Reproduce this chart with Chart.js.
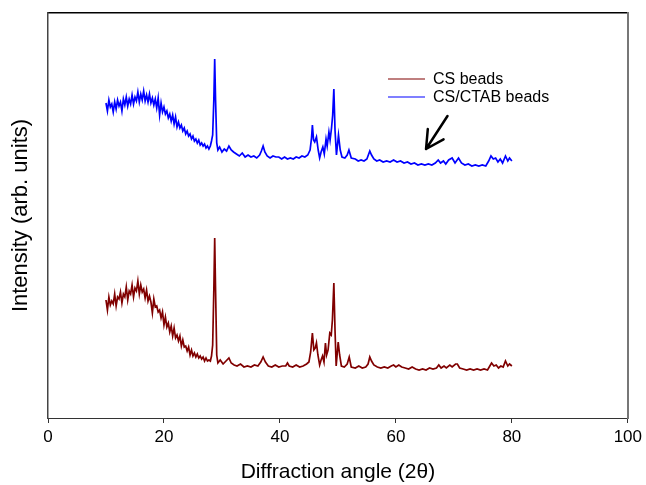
<!DOCTYPE html>
<html>
<head>
<meta charset="utf-8">
<script src="https://cdn.jsdelivr.net/npm/chart.js@4"></script>
<style>
html,body{margin:0;padding:0;background:#fff;}
#wrap{width:646px;height:485px;}
</style>
</head>
<body>
<div id="wrap"><canvas id="c" width="646" height="485"></canvas></div>
<script>
// ---- DATA ----
const seriesNames = ["CS beads", "CS/CTAB beads"];
const xTickLabels = [0, 20, 40, 60, 80, 100];

const csAngle = [10.0,10.25,10.5,10.75,11.0,11.25,11.5,11.75,12.0,12.25,12.5,12.75,13.0,13.25,13.5,13.75,14.0,14.25,14.5,14.75,15.0,15.25,15.5,15.75,16.0,16.25,16.5,16.75,17.0,17.25,17.5,17.75,18.0,18.25,18.5,18.75,19.0,19.25,19.5,19.75,20.0,20.25,20.5,20.75,21.0,21.25,21.5,21.75,22.0,22.25,22.5,22.75,23.0,23.25,23.5,23.75,24.0,24.25,24.5,24.75,25.0,25.25,25.5,25.75,26.0,26.25,26.5,26.75,27.0,27.25,27.5,27.75,28.0,28.2,28.4,28.6,28.75,28.9,29.1,29.3,29.7,30.2,30.7,31.2,31.6,32.1,32.6,33.2,33.8,34.4,35.0,35.6,36.2,36.7,37.1,37.5,38.0,38.6,39.2,39.8,40.4,41.0,41.3,41.6,42.2,42.8,43.4,44.0,44.6,45.0,45.3,45.6,45.85,46.1,46.3,46.55,46.85,47.1,47.35,47.6,47.85,48.05,48.3,48.6,48.85,49.05,49.3,49.5,49.7,50.05,50.3,50.6,51.1,51.6,51.95,52.3,53.0,53.6,54.2,54.8,55.2,55.5,55.8,56.2,56.8,57.4,58.0,58.6,59.2,59.6,60.0,60.5,61.0,61.6,62.2,62.8,63.4,64.0,64.6,65.2,65.8,66.4,67.0,67.4,67.8,68.3,68.7,69.3,69.7,70.3,70.6,71.0,71.6,72.2,72.8,73.4,74.0,74.6,75.2,75.8,76.2,76.5,76.9,77.3,77.7,78.1,78.5,78.9,79.3,79.6,80.0];
const csIntensity = [118,108,121,113,117,114,124,112,121,119,126,115,124,121,131,118,127,124,133,121,130,127,137,124,133,126,129,120,128,117,122,116,105,119,111,112,106,108,100,106,93,101,91,95,86,92,82,90,80,83,77,82,72,78,71,72,67,71,63,68,62,65,61,64,60,62,59,61,57,60,57,58,57,62,73,128,180,128,63,55,58,54,57,60,55,53,52,54,51,52,51,53,52,56,61,56,52,51,53,51,52,52,55,52,51,53,51,52,54,56,66,85,68,70,75,63,53,58,62,56,75,63,68,85,83,98,135,88,52,76,63,52,51,54,61,51,50,52,50,51,54,61,57,53,51,50,51,50,52,53,51,53,51,50,49,51,49,48,49,48,50,49,50,53,50,52,50,53,51,54,54,50,49,48,49,48,49,48,49,48,52,55,52,53,50,52,51,57,52,54,52];

const ctabAngle = [10.0,10.25,10.5,10.75,11.0,11.25,11.5,11.75,12.0,12.25,12.5,12.75,13.0,13.25,13.5,13.75,14.0,14.25,14.5,14.75,15.0,15.25,15.5,15.75,16.0,16.25,16.5,16.75,17.0,17.25,17.5,17.75,18.0,18.25,18.5,18.75,19.0,19.25,19.5,19.75,20.0,20.25,20.5,20.75,21.0,21.25,21.5,21.75,22.0,22.25,22.5,22.75,23.0,23.25,23.5,23.75,24.0,24.25,24.5,24.75,25.0,25.25,25.5,25.75,26.0,26.25,26.5,26.75,27.0,27.25,27.5,27.75,28.0,28.2,28.4,28.6,28.75,28.9,29.1,29.3,29.6,30.0,30.4,30.8,31.2,31.6,32.0,32.5,33.0,33.5,34.0,34.5,35.0,35.5,36.0,36.5,36.8,37.1,37.4,37.8,38.3,38.8,39.3,39.8,40.3,40.8,41.3,41.8,42.3,42.8,43.3,43.8,44.3,44.8,45.2,45.45,45.6,45.8,46.0,46.3,46.6,46.85,47.1,47.4,47.65,47.95,48.15,48.45,48.65,48.9,49.1,49.3,49.5,49.75,50.1,50.4,50.7,51.2,51.6,51.9,52.3,53.0,53.5,54.0,54.5,55.0,55.5,55.8,56.2,56.7,57.2,57.8,58.4,59.0,59.6,60.2,60.8,61.4,62.0,62.6,63.2,63.8,64.4,65.0,65.6,66.2,66.8,67.3,67.7,68.2,68.6,69.1,69.7,70.2,70.8,71.3,71.9,72.5,73.1,73.7,74.3,74.9,75.5,76.0,76.4,76.8,77.2,77.6,78.0,78.4,78.9,79.3,79.6,80.0];
const ctabIntensity = [315,307,318,311,314,306,316,309,318,312,316,307,319,313,321,312,319,314,323,314,321,317,326,316,324,318,327,317,323,316,324,315,320,313,319,310,320,303,315,306,311,304,307,300,304,297,303,294,301,291,296,290,293,287,290,284,287,282,284,279,282,277,279,275,278,273,275,272,274,270,272,269,272,277,283,318,359,318,275,268,271,266,269,267,272,268,266,264,262,265,261,263,261,262,260,263,267,272,266,262,260,262,261,261,259,261,259,260,259,261,260,262,261,263,268,280,293,278,276,281,268,260,266,271,264,279,272,286,278,290,303,329,288,263,283,268,261,260,263,268,260,259,257,258,257,259,267,263,259,257,258,256,257,256,258,256,257,255,256,254,255,253,254,253,254,253,255,258,255,257,254,258,260,255,260,255,253,254,252,253,252,253,252,257,262,259,260,256,259,255,262,257,260,257];

// arrow annotation (data space): tail -> tip
const arrowAngle = [68.9, 65.2];
const arrowIntensity = [302, 269];

const colors = ["#800000", "#0000ff"];

function pts(xs, ys){ return xs.map((x,i)=>({x:x, y:ys[i]})); }

const FONT = "'Liberation Sans', Arial, sans-serif";

const arrowPlugin = {
  id: 'arrow',
  afterDatasetsDraw(chart){
    const {ctx, scales:{x, y}} = chart;
    const x0 = x.getPixelForValue(arrowAngle[0]), y0 = y.getPixelForValue(arrowIntensity[0]);
    const x1 = x.getPixelForValue(arrowAngle[1]), y1 = y.getPixelForValue(arrowIntensity[1]);
    const ang = Math.atan2(y0 - y1, x0 - x1);
    const L = 20, spread = 28 * Math.PI / 180;
    ctx.save();
    ctx.strokeStyle = '#000';
    ctx.lineWidth = 2.5;
    ctx.lineCap = 'round';
    ctx.lineJoin = 'round';
    ctx.beginPath();
    ctx.moveTo(x0, y0); ctx.lineTo(x1, y1);
    ctx.moveTo(x1 + L*Math.cos(ang - spread), y1 + L*Math.sin(ang - spread));
    ctx.lineTo(x1, y1);
    ctx.lineTo(x1 + L*Math.cos(ang + spread), y1 + L*Math.sin(ang + spread));
    ctx.stroke();
    ctx.restore();
  }
};

const legendPlugin = {
  id: 'innerLegend',
  afterDatasetsDraw(chart){
    const {ctx} = chart;
    ctx.save();
    ctx.font = "16px " + FONT;
    ctx.textBaseline = 'middle';
    ctx.textAlign = 'left';
    chart.data.datasets.forEach((ds, i) => {
      const yy = 79 + i * 18;
      ctx.strokeStyle = ds.borderColor;
      ctx.lineWidth = 1.2;
      ctx.beginPath(); ctx.moveTo(388, yy); ctx.lineTo(425, yy); ctx.stroke();
      ctx.fillStyle = '#000';
      ctx.fillText(ds.label, 433, yy + 1);
    });
    ctx.restore();
  }
};

new Chart(document.getElementById('c'), {
  type: 'line',
  data: {
    datasets: [
      {label: seriesNames[0], data: pts(csAngle, csIntensity), borderColor: colors[0], backgroundColor: colors[0], borderWidth: 1.7, pointRadius: 0, tension: 0, fill: false},
      {label: seriesNames[1], data: pts(ctabAngle, ctabIntensity), borderColor: colors[1], backgroundColor: colors[1], borderWidth: 1.7, pointRadius: 0, tension: 0, fill: false}
    ]
  },
  options: {
    responsive: false,
    animation: false,
    devicePixelRatio: 1,
    layout: {padding: 0},
    plugins: {legend: {display: false}, tooltip: {enabled: false}},
    scales: {
      x: {
        type: 'linear', position: 'bottom', min: 0, max: 100,
        afterBuildTicks(s){ s.ticks = xTickLabels.map(v => ({value: v})); },
        afterFit(s){ s.height = 67; },
        ticks: {color: '#000', font: {family: FONT, size: 17}, padding: 4, maxRotation: 0},
        grid: {display: true, drawOnChartArea: false, drawTicks: true, tickLength: 5, color: '#333'},
        border: {display: true, color: '#333', width: 1},
        title: {display: true, text: 'Diffraction angle (2θ)', color: '#000', font: {family: FONT, size: 21}, padding: {top: 0, bottom: 0}}
      },
      x2: {
        type: 'linear', position: 'top', min: 0, max: 100,
        afterFit(s){ s.height = 13; },
        ticks: {display: false},
        grid: {display: false},
        border: {display: true, color: '#000', width: 1.5}
      },
      y: {
        type: 'linear', position: 'left', min: 0, max: 405,
        afterFit(s){ s.width = 48; },
        ticks: {display: false},
        grid: {display: false},
        border: {display: true, color: '#444', width: 1.5},
        title: {display: true, text: 'Intensity (arb. units)', color: '#000', font: {family: FONT, size: 22}, padding: {top: 8, bottom: 0}}
      },
      y2: {
        type: 'linear', position: 'right', min: 0, max: 405,
        afterFit(s){ s.width = 18; },
        ticks: {display: false},
        grid: {display: false},
        border: {display: true, color: '#777', width: 2}
      }
    }
  },
  plugins: [arrowPlugin, legendPlugin]
});
</script>
</body>
</html>
